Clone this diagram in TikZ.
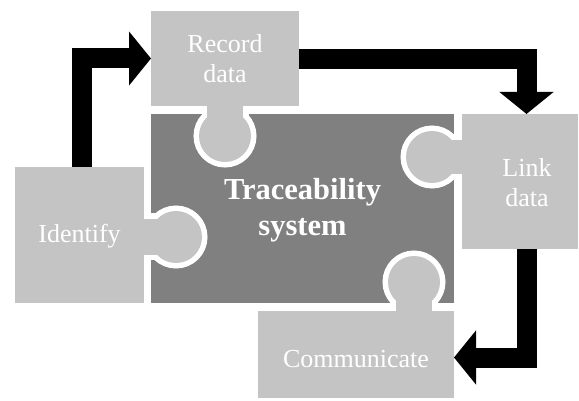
\documentclass[tikz,border=0pt]{standalone}
\usepackage{fontspec}
\setmainfont{Liberation Serif}
\usetikzlibrary{arrows.meta}
\definecolor{lightpc}{HTML}{C4C4C4}
\definecolor{darkpc}{HTML}{808080}
\begin{document}
\begin{tikzpicture}[x=1pt,y=-1pt,
  piece/.style={fill=lightpc, draw=none, inner sep=0pt, outer sep=0pt},
  core/.style={fill=darkpc, draw=none, inner sep=0pt, outer sep=0pt},
  knobline/.style={white, line width=11pt},
  knobfill/.style={fill=lightpc},
  lbl/.style={text=white, font=\fontsize{26}{30}\selectfont, align=center, inner sep=0pt},
  corelbl/.style={text=white, font=\fontsize{30.5}{36}\selectfont\bfseries, align=center, inner sep=0pt},
  blockarrow/.style={draw=black, line width=20pt, line join=miter,
    -{Triangle[length=22pt,width=53pt]}}
]
\useasboundingbox (0,0) rectangle (579,401);
% central piece
\node[core, minimum width=303pt, minimum height=189pt] (core) at (302.5,208.5) {};
% knobs (white outline, then fill)
\draw[knobline] (207,100) rectangle (243,136);
\draw[knobline] (225,136) circle[radius=26];
\draw[knobline] (432,140) rectangle (468,174);
\draw[knobline] (432,157) circle[radius=26];
\draw[knobline] (138,219) rectangle (176,255);
\draw[knobline] (176,237) circle[radius=26];
\draw[knobline] (396,282) rectangle (432,317);
\draw[knobline] (414,282) circle[radius=26];
\fill[knobfill] (207,100) rectangle (243,136);
\fill[knobfill] (225,136) circle[radius=26];
\fill[knobfill] (432,140) rectangle (468,174);
\fill[knobfill] (432,157) circle[radius=26];
\fill[knobfill] (138,219) rectangle (176,255);
\fill[knobfill] (176,237) circle[radius=26];
\fill[knobfill] (396,282) rectangle (432,317);
\fill[knobfill] (414,282) circle[radius=26];
% outer pieces
\node[piece, minimum width=148pt, minimum height=95pt] (record) at (225,58.5) {};
\node[piece, minimum width=116pt, minimum height=135pt] (link) at (520,181.5) {};
\node[piece, minimum width=129pt, minimum height=136pt] (ident) at (79.5,235) {};
\node[piece, minimum width=196pt, minimum height=87pt] (comm) at (356,354.5) {};
% labels
\node[lbl] (recordtxt) at (225,59) {Record\\data};
\node[lbl] (linktxt) at (527,183) {Link\\data};
\node[lbl, anchor=base] (identtxt) at (79.5,243) {Identify};
\node[lbl, anchor=base] (commtxt) at (356,367) {Communicate};
\node[corelbl] (coretxt) at (302.5,210) {Traceability\\system};
% arrows
\draw[blockarrow] ([xshift=2.5pt]ident.north) |- (record.west);
\draw[blockarrow] ([yshift=-0.5pt]record.east) -| ([xshift=6.5pt]link.north);
\draw[blockarrow] ([xshift=6.5pt]link.south) |- ([yshift=-3pt]comm.east);
\end{tikzpicture}
\end{document}
